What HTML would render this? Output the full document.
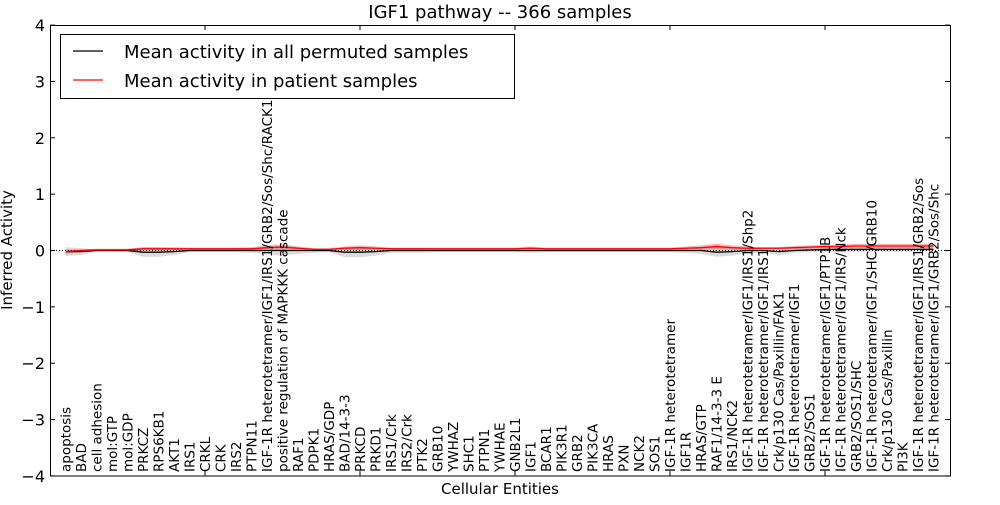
<!DOCTYPE html>
<html><head><meta charset="utf-8">
<style>
html,body{margin:0;padding:0;background:#fff;}
svg text{font-family:"DejaVu Sans","Liberation Sans",sans-serif;}
</style></head>
<body>
<svg id="chart" width="1000" height="500" xmlns="http://www.w3.org/2000/svg">
<rect width="1000" height="500" fill="#fff"/>
<text x="500" y="18" text-anchor="middle" font-size="18">IGF1 pathway -- 366 samples</text>
<g id="bands"></g><g id="lines"></g>
<g id="axes"></g><g id="xlabels"></g>
<rect x="50.5" y="25.5" width="900" height="450.5" fill="none" stroke="#000" stroke-width="1"/>
<text transform="translate(12,250) rotate(-90)" text-anchor="middle" font-size="15">Inferred Activity</text>
<text x="500" y="494" text-anchor="middle" font-size="15">Cellular Entities</text>
<g>
<rect x="60.5" y="34.5" width="454" height="64" fill="#fff" stroke="#000"/>
<line x1="73" y1="51" x2="103" y2="51" stroke="#000" stroke-width="1.2"/>
<text x="124" y="58" font-size="18">Mean activity in all permuted samples</text>
<line x1="73" y1="80" x2="103" y2="80" stroke="#f00" stroke-width="1.2"/>
<text x="124" y="87" font-size="18">Mean activity in patient samples</text>
</g>
</svg>
<script>
const categories=["apoptosis","BAD","cell adhesion","mol:GTP","mol:GDP","PRKCZ","RPS6KB1","AKT1","IRS1","CRKL","CRK","IRS2","PTPN11","IGF-1R heterotetramer/IGF1/IRS1/GRB2/Sos/Shc/RACK1","positive regulation of MAPKKK cascade","RAF1","PDPK1","HRAS/GDP","BAD/14-3-3","PRKCD","PRKD1","IRS1/Crk","IRS2/Crk","PTK2","GRB10","YWHAZ","SHC1","PTPN1","YWHAE","GNB2L1","IGF1","BCAR1","PIK3R1","GRB2","PIK3CA","HRAS","PXN","NCK2","SOS1","IGF-1R heterotetramer","IGF1R","HRAS/GTP","RAF1/14-3-3 E","IRS1/NCK2","IGF-1R heterotetramer/IGF1/IRS1/Shp2","IGF-1R heterotetramer/IGF1/IRS1","Crk/p130 Cas/Paxillin/FAK1","IGF-1R heterotetramer/IGF1","GRB2/SOS1","IGF-1R heterotetramer/IGF1/PTP1B","IGF-1R heterotetramer/IGF1/IRS/Nck","GRB2/SOS1/SHC","IGF-1R heterotetramer/IGF1/SHC/GRB10","Crk/p130 Cas/Paxillin","PI3K","IGF-1R heterotetramer/IGF1/IRS1/GRB2/Sos","IGF-1R heterotetramer/IGF1/GRB2/Sos/Shc"];
const permMean=[-0.02,-0.02,0,0,0,-0.03,-0.03,-0.02,0,0,0,0,0,0,0,0,0,0,-0.03,-0.03,-0.02,0,0,0,0,0,0,0,0,0,0,0,0,0,0,0,0,0,0,0,0,0,-0.03,-0.02,0,0,-0.02,0,0.01,0.02,0.02,0.02,0.02,0.02,0.02,0.02,0.02];
const permSpread=[0.08,0.06,0.02,0.02,0.03,0.08,0.08,0.06,0.03,0.03,0.03,0.03,0.04,0.07,0.09,0.06,0.04,0.03,0.09,0.09,0.07,0.04,0.04,0.04,0.03,0.03,0.03,0.03,0.03,0.03,0.04,0.03,0.03,0.03,0.03,0.03,0.03,0.03,0.03,0.03,0.04,0.06,0.08,0.07,0.05,0.04,0.06,0.04,0.04,0.04,0.04,0.04,0.04,0.04,0.04,0.04,0.04];
const patMean=[-0.02,0,0.01,0.01,0.01,0.03,0.03,0.03,0.03,0.03,0.03,0.03,0.03,0.05,0.06,0.04,0.02,0.02,0.04,0.05,0.04,0.03,0.03,0.03,0.03,0.03,0.03,0.03,0.03,0.03,0.04,0.03,0.03,0.03,0.03,0.03,0.03,0.03,0.03,0.03,0.04,0.05,0.07,0.05,0.04,0.04,0.04,0.05,0.06,0.07,0.07,0.08,0.08,0.08,0.08,0.08,0.08];
const patSpread=[0.04,0.02,0.02,0.02,0.02,0.03,0.03,0.03,0.02,0.02,0.02,0.02,0.03,0.04,0.05,0.03,0.02,0.02,0.03,0.04,0.03,0.02,0.02,0.02,0.02,0.02,0.02,0.02,0.02,0.02,0.03,0.02,0.02,0.02,0.02,0.02,0.02,0.02,0.02,0.02,0.03,0.04,0.05,0.04,0.03,0.02,0.02,0.03,0.03,0.03,0.03,0.04,0.04,0.04,0.04,0.04,0.04];
const yTicks=[-4,-3,-2,-1,0,1,2,3,4];
const xTickIdx=[9,19,29,39,49];
const NS="http://www.w3.org/2000/svg";
const X=i=>65.5+i*15.5;
const Y=v=>250.5-v*56.35;
function el(tag,attrs,parent){const e=document.createElementNS(NS,tag);for(const k in attrs)e.setAttribute(k,attrs[k]);parent.appendChild(e);return e;}
const bands=document.getElementById('bands'),lines=document.getElementById('lines'),axes=document.getElementById('axes'),xl=document.getElementById('xlabels');
function band(m,s,fill,op,name){
  let d="M"+m.map((v,i)=>X(i)+","+Y(v+s[i])).join("L");
  for(let i=m.length-1;i>=0;i--)d+="L"+X(i)+","+Y(m[i]-s[i]);
  const p=el('path',{d:d+"Z",fill:fill,'fill-opacity':op,stroke:'none'},bands);
  
  
}
band(permMean,permSpread,'#999',0.35,'permuted-band');
band(patMean,patSpread,'#f00',0.3,'patient-band');
const z=el('line',{x1:50,x2:950,y1:Y(0),y2:Y(0),stroke:'#000','stroke-dasharray':'1,2','stroke-width':1},lines);


function line(m,c,name){
  const p=el('polyline',{points:m.map((v,i)=>X(i)+","+Y(v)).join(" "),fill:'none',stroke:c,'stroke-width':1.3},lines);
  
  
}
line(permMean,'#000','permuted-mean-line');
line(patMean,'#f00','patient-mean-line');
yTicks.forEach(t=>{
  const y=Y(t);
  el('line',{x1:50,x2:55,y1:y,y2:y,stroke:'#000'},axes);
  el('line',{x1:945,x2:950,y1:y,y2:y,stroke:'#000'},axes);
  const tx=el('text',{x:45,y:y+6,'text-anchor':'end','font-size':16},axes);
  tx.textContent=(t<0?"\u2212"+(-t):String(t));
  
  
});
xTickIdx.forEach(i=>{
  el('line',{x1:X(i),x2:X(i),y1:476,y2:471,stroke:'#000'},axes);
  el('line',{x1:X(i),x2:X(i),y1:25,y2:30,stroke:'#000'},axes);
});
categories.forEach((c,i)=>{
  const t=el('text',{transform:`translate(${X(i)+5},472) rotate(-90)`,'font-size':13.5},xl);
  t.textContent=c;
  
  
});
</script>
</body></html>
